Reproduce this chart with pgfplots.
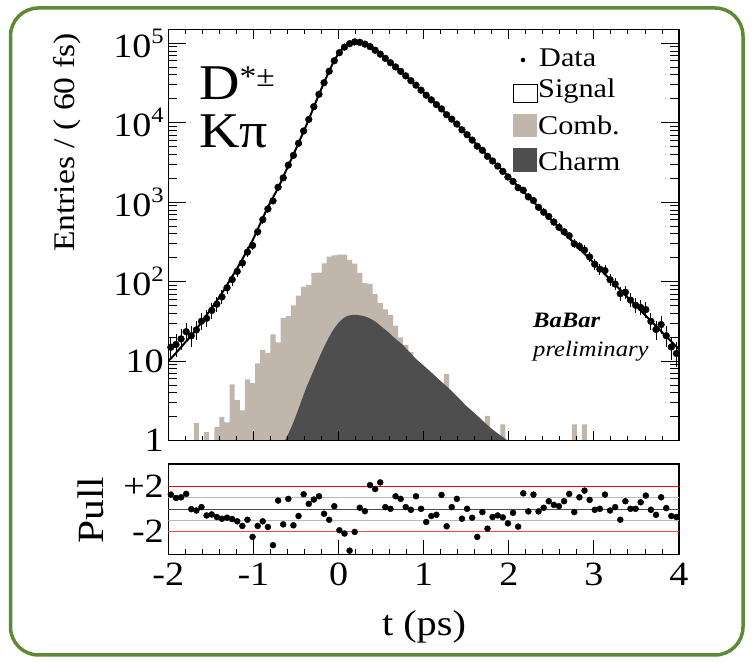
\documentclass[border=0pt]{standalone}
\usepackage{pgfplots}
\pgfplotsset{compat=1.18}
\usepackage{fontspec}
\setmainfont{Liberation Serif}[FakeStretch=1.12]
\definecolor{combc}{RGB}{192,182,172}
\definecolor{charmc}{RGB}{78,78,78}
\definecolor{frameg}{RGB}{94,138,56}
\definecolor{pinkred}{RGB}{255,70,70}
\newcommand{\tl}{\fontsize{34}{34}\selectfont}
\newcommand{\ssup}[1]{\raisebox{0.42em}{\fontsize{22}{22}\selectfont #1}}
\begin{document}
\begin{tikzpicture}[x=1pt,y=1pt]
\useasboundingbox (0,0) rectangle (753,663);
\draw[frameg, line width=3.5pt, rounded corners=28pt] (10.5,8) rectangle (743,655);
\begin{axis}[
  at={(168.3pt,222.3pt)}, anchor=south west,
  scale only axis, width=510.7pt, height=411.4pt,
  xmin=-2, xmax=4, ymode=log, ymin=1, ymax=1.5e5,
  xtick=\empty,
  ytick={1,10,100,1000,10000,100000},
  yticklabels={1,10,10\ssup{2},10\ssup{3},10\ssup{4},10\ssup{5}},
  minor ytick={2,3,4,5,6,7,8,9,20,30,40,50,60,70,80,90,200,300,400,500,600,700,800,900,2000,3000,4000,5000,6000,7000,8000,9000,20000,30000,40000,50000,60000,70000,80000,90000},
  tick align=inside, major tick length=18pt, minor tick length=9pt,
  tick style={black, line width=0.9pt},
  axis line style={line width=1.2pt},
  tick label style={font=\tl},
  yticklabel style={xshift=-1pt},
  /pgf/number format/assume math mode=true,
]
\addplot[const plot, fill=combc, draw=none] coordinates {
(-2.00,1) (-1.70,1.66) (-1.64,1) (-1.58,1.28) (-1.52,1) (-1.46,1.48) (-1.40,2.0) (-1.34,1.7)
(-1.28,5.1) (-1.22,3.26) (-1.16,2.4) (-1.10,5.9) (-1.04,5.3) (-0.98,9.4) (-0.92,13.9) (-0.86,12.7)
(-0.80,21.8) (-0.74,17.2) (-0.68,35) (-0.62,37) (-0.56,50.5) (-0.50,67) (-0.44,86.5) (-0.38,91)
(-0.32,129) (-0.26,130) (-0.20,170) (-0.14,207) (-0.08,215) (-0.02,219) (0.04,219) (0.10,189)
(0.16,169) (0.22,129) (0.28,96) (0.34,94) (0.40,70) (0.46,54) (0.52,45) (0.58,38) (0.64,28)
(0.70,20) (0.76,16) (0.82,13) (0.88,10) (0.94,8) (1.00,7) (1.06,5.5) (1.12,4.5) (1.18,3.8)
(1.24,6.9) (1.30,3) (1.36,2.5) (1.42,2) (1.48,1.6) (1.54,1.3) (1.60,1.1) (1.66,1) (1.72,2.05)
(1.78,1) (1.90,1.61) (1.96,1) (2.74,1.6) (2.80,1) (2.86,1.6) (2.92,1) (4.00,1)
} \closedcycle;
\addplot[smooth, fill=charmc, draw=none] coordinates {
(-0.63,1.0) (-0.55,1.51) (-0.49,2.21) (-0.43,3.31) (-0.37,4.90) (-0.31,6.92) (-0.25,9.77)
(-0.19,13.6) (-0.13,18.4) (-0.07,24.0) (-0.01,29.5) (0.05,34.3) (0.11,37.3) (0.19,38.4)
(0.27,37.5) (0.35,35.3) (0.43,31.6) (0.51,26.9) (0.59,22.9) (0.67,19.1) (0.75,16.2)
(0.83,13.2) (0.91,10.7) (1.0,8.81) (1.1,7.08) (1.2,5.62) (1.3,4.52) (1.4,3.55) (1.5,2.75)
(1.6,2.21) (1.7,1.76) (1.8,1.41) (1.9,1.17) (1.99,1.0)
} \closedcycle;
\addplot[smooth, black, line width=2pt] coordinates {
(-2,10.2) (-1.97,10.8) (-1.91,12.7) (-1.85,15.0) (-1.79,17.8) (-1.73,20.9) (-1.67,25.4) (-1.61,30.9)
(-1.55,38.0) (-1.49,46.8) (-1.43,57.5) (-1.37,71.6) (-1.31,91.2) (-1.25,116) (-1.19,148)
(-1.13,193) (-1.07,251) (-1.01,331) (-0.95,457) (-0.89,631) (-0.83,871) (-0.77,1148)
(-0.71,1514) (-0.65,2089) (-0.59,2884) (-0.53,3981) (-0.47,5559) (-0.41,7762) (-0.35,10960)
(-0.29,15850) (-0.23,22650) (-0.17,31990) (-0.11,44670) (-0.05,60260) (0.01,76740)
(0.07,90160) (0.13,100000) (0.19,104700) (0.25,102800) (0.31,97720) (0.37,90160)
(0.43,81280) (0.49,72440) (0.55,64570) (0.61,56890) (0.67,50120) (0.73,44160) (0.79,38900)
(0.85,33880) (0.91,29510) (0.97,25700) (1.03,22390) (1.09,19500) (1.15,16980) (1.21,14790)
(1.27,12790) (1.33,11090) (1.39,9550) (1.45,8222) (1.51,7079) (1.57,6109) (1.63,5248)
(1.69,4519) (1.75,3890) (1.81,3350) (1.87,2884) (1.93,2483) (1.99,2138) (2.05,1841)
(2.11,1585) (2.17,1365) (2.23,1175) (2.29,1009) (2.35,869) (2.41,748) (2.47,644) (2.53,555)
(2.59,478) (2.65,411) (2.71,354) (2.77,305) (2.83,262) (2.89,225) (2.95,194) (3.01,167)
(3.07,144) (3.13,124) (3.19,107) (3.25,91.8) (3.31,79.1) (3.37,68.1) (3.43,58.5) (3.49,50.4)
(3.55,43.4) (3.61,37.3) (3.67,32.1) (3.73,27.7) (3.79,23.8) (3.85,20.5) (3.91,17.7)
(3.97,15.2) (4,14.1)
};
\addplot[only marks, mark=*, mark size=3.4pt, black,
  error bars/.cd, y dir=both, y explicit,
  error bar style={line width=0.9pt, black},
  error mark options={line width=0.9pt, mark size=2.5pt, black}]
  table[row sep=\\, x=x, y=y, y error=e] {
x y e\\
-1.97 15.0 3.9\\ -1.91 16.2 4.0\\ -1.85 19.1 4.4\\ -1.79 23.5 4.8\\ -1.73 20.9 4.6\\
-1.67 24.8 5.0\\ -1.61 31.9 5.6\\ -1.55 34.6 5.9\\ -1.49 43.6 6.6\\ -1.43 52.2 7.2\\
-1.37 64.4 8.0\\ -1.31 83.9 9.2\\ -1.25 106.5 10.3\\ -1.19 134.9 11.6\\ -1.13 172.3 13.1\\
-1.07 236.1 15.4\\ -1.01 286.3 16.9\\ -0.95 425.1 20.6\\ -0.89 603.9 24.6\\ -0.83 824.4 28.7\\
-0.77 1040 32.2\\ -0.71 1544 39.3\\ -0.65 2027 45.0\\ -0.59 2933 54.2\\ -0.53 3891 62.4\\
-0.47 5514 74.3\\ -0.41 7878 88.8\\ -0.35 11009 105\\ -0.29 15957 126\\ -0.23 22822 151\\
-0.17 31917 179\\ -0.11 44471 211\\ -0.05 60324 246\\ 0.01 76222 276\\ 0.07 89511 299\\
0.13 98836 314\\ 0.19 104046 323\\ 0.25 102838 321\\ 0.31 97664 313\\ 0.37 90800 301\\
0.43 81787 286\\ 0.49 73078 270\\ 0.55 64616 254\\ 0.61 56897 239\\ 0.67 50375 224\\
0.73 44351 211\\ 0.79 38935 197\\ 0.85 33869 184\\ 0.91 29706 172\\ 0.97 25705 160\\
1.03 22219 149\\ 1.09 19415 139\\ 1.15 16915 130\\ 1.21 14943 122\\ 1.27 12618 112\\
1.33 11109 105\\ 1.39 9639 98\\ 1.45 8145 90\\ 1.51 7082 84\\ 1.57 6050 78\\
1.63 5070 71\\ 1.69 4502 67\\ 1.75 3782 61\\ 1.81 3309 58\\ 1.87 2854 53\\
1.93 2447 49\\ 1.99 2080 46\\ 2.05 1827 43\\ 2.11 1523 39\\ 2.17 1417 38\\
2.23 1168 34\\ 2.29 1050 32\\ 2.35 863 29\\ 2.41 751 27\\ 2.47 662 26\\
2.53 564 24\\ 2.59 484 22\\ 2.65 425 21\\ 2.71 379 19\\ 2.77 300 17\\
2.83 279 17\\ 2.89 250 16\\ 2.95 205 14\\ 3.01 166 13\\ 3.07 144 12\\
3.13 138 12\\ 3.19 106 10\\ 3.25 93.5 9.7\\ 3.31 70.7 8.4\\ 3.37 73.9 8.6\\
3.43 58.7 7.7\\ 3.49 50.6 7.1\\ 3.55 47.4 6.9\\ 3.61 44.6 6.7\\ 3.67 31.8 5.6\\
3.73 25.1 5.0\\ 3.79 28.9 5.4\\ 3.85 20.9 4.6\\ 3.91 15.1 3.9\\ 3.97 12.5 3.5\\
};
\end{axis}
% overlay axis carrying only the x ticks of the upper panel
\begin{axis}[
  at={(168.3pt,222.3pt)}, anchor=south west,
  scale only axis, width=510.7pt, height=411.4pt,
  xmin=-2, xmax=4, ymin=0, ymax=1,
  xtick={-2,-1,0,1,2,3,4}, xticklabels={}, minor x tick num=4,
  ytick=\empty,
  tick align=inside, major tick length=10pt, minor tick length=5pt,
  tick style={black, line width=0.9pt},
  axis line style={line width=1.2pt},
]
\end{axis}
\begin{axis}[
  at={(168.3pt,108.7pt)}, anchor=south west,
  scale only axis, width=510.7pt, height=90.3pt,
  xmin=-2, xmax=4, ymin=-4, ymax=4,
  xtick={-2,-1,0,1,2,3,4}, xticklabels={-2,-1,0,1,2,3,4}, minor x tick num=4,
  xtick pos=left, xticklabel pos=left,
  ytick={-2,2}, yticklabels={-2,+2}, ytick style={draw=none},
  tick align=inside, major tick length=14pt, minor tick length=5pt,
  tick style={black, line width=0.9pt},
  axis line style={line width=1.2pt},
  tick label style={font=\tl},
  xticklabel style={yshift=-5pt},
  yticklabel style={xshift=-1pt},
]
\addplot[black!28, line width=1.1pt] coordinates {(-2,1) (4,1)};
\addplot[black!28, line width=1.1pt] coordinates {(-2,-1) (4,-1)};
\addplot[black!70, line width=1.1pt] coordinates {(-2,0) (4,0)};
\addplot[red, line width=1.1pt] coordinates {(-2,2) (4,2)};
\addplot[pinkred, line width=1.4pt] coordinates {(-2,-2) (4,-2)};
\addplot[only marks, mark=*, mark size=3pt, black] table[row sep=\\] {
x p\\
-1.97 1.29\\ -1.91 0.99\\ -1.85 1.05\\ -1.79 1.35\\ -1.73 0\\ -1.67 -0.12\\ -1.61 0.18\\
-1.55 -0.56\\ -1.49 -0.47\\ -1.43 -0.70\\ -1.37 -0.85\\ -1.31 -0.76\\ -1.25 -0.88\\ -1.19 -1.08\\
-1.13 -1.49\\ -1.07 -0.94\\ -1.01 -2.46\\ -0.95 -1.49\\ -0.89 -1.08\\ -0.83 -1.58\\ -0.77 -3.19\\
-0.71 0.76\\ -0.65 -1.35\\ -0.59 0.91\\ -0.53 -1.43\\ -0.47 -0.61\\ -0.41 1.32\\ -0.35 0.47\\
-0.29 0.85\\ -0.23 1.14\\ -0.17 -0.41\\ -0.11 -0.94\\ -0.05 0.26\\ 0.01 -1.87\\ 0.07 -2.16\\
0.13 -3.68\\ 0.19 -2.02\\ 0.25 0.12\\ 0.31 -0.18\\ 0.37 2.13\\ 0.43 1.78\\ 0.49 2.37\\
0.55 0.18\\ 0.61 0.03\\ 0.67 1.14\\ 0.73 0.91\\ 0.79 0.18\\ 0.85 -0.06\\ 0.91 1.14\\
0.97 0.03\\ 1.03 -1.14\\ 1.09 -0.61\\ 1.15 -0.50\\ 1.21 1.26\\ 1.27 -1.52\\ 1.33 0.18\\
1.39 0.91\\ 1.45 -0.85\\ 1.51 0.03\\ 1.57 -0.76\\ 1.63 -2.46\\ 1.69 -0.26\\ 1.75 -1.73\\
1.81 -0.70\\ 1.87 -0.56\\ 1.93 -0.73\\ 1.99 -1.26\\ 2.05 -0.32\\ 2.11 -1.55\\ 2.17 1.40\\
2.23 -0.20\\ 2.29 1.29\\ 2.35 -0.20\\ 2.41 0.12\\ 2.47 0.70\\ 2.53 0.38\\ 2.59 0.26\\
2.65 0.70\\ 2.71 1.35\\ 2.77 -0.26\\ 2.83 1.05\\ 2.89 1.64\\ 2.95 0.82\\ 3.01 -0.06\\
3.07 0.03\\ 3.13 1.29\\ 3.19 -0.12\\ 3.25 0.18\\ 3.31 -0.94\\ 3.37 0.70\\ 3.43 0.03\\
3.49 0.03\\ 3.55 0.61\\ 3.61 1.20\\ 3.67 -0.06\\ 3.73 -0.50\\ 3.79 1.05\\ 3.85 0.09\\
3.91 -0.61\\ 3.97 -0.70\\
};
\end{axis}
% axis titles
\node[rotate=90, anchor=base east, font=\fontsize{30}{30}\selectfont] at (74,633) {Entries / ( 60 fs)};
\node[rotate=90, anchor=base, font=\fontsize{37}{37}\selectfont] at (103,153) {Pull};
\node[anchor=base, font=\fontsize{36}{36}\selectfont] at (424,27) {t (ps)};
% decay label
\node[anchor=base west, inner sep=0pt, font=\fontsize{50}{50}\selectfont] at (199,563) {D\raisebox{0.27em}{\fontsize{30}{30}\selectfont *±}};
\node[anchor=base west, inner sep=0pt, font=\fontsize{50}{50}\selectfont] at (199,515) {Kπ};
% legend
\fill[black] (523,603) circle (2.3pt);
\node[anchor=base west, inner sep=0pt, font=\fontsize{27}{27}\selectfont] at (539,596) {Data};
\draw[black, line width=0.8pt] (513,561) rectangle (537,579);
\node[anchor=base west, inner sep=0pt, font=\fontsize{27}{27}\selectfont] at (538,565.3) {Signal};
\fill[combc] (513,526) rectangle (537,549);
\node[anchor=base west, inner sep=0pt, font=\fontsize{27}{27}\selectfont] at (538,528) {Comb.};
\fill[charmc] (513,491) rectangle (537,515);
\node[anchor=base west, inner sep=0pt, font=\fontsize{27}{27}\selectfont] at (538,492.3) {Charm};
% BaBar
\node[anchor=base west, inner sep=0pt, font=\fontsize{22}{22}\selectfont\bfseries\itshape] at (533,335) {BaBar};
\node[anchor=base west, inner sep=0pt, font=\fontsize{22}{22}\selectfont\itshape] at (533,306.3) {preliminary};
\end{tikzpicture}
\end{document}
